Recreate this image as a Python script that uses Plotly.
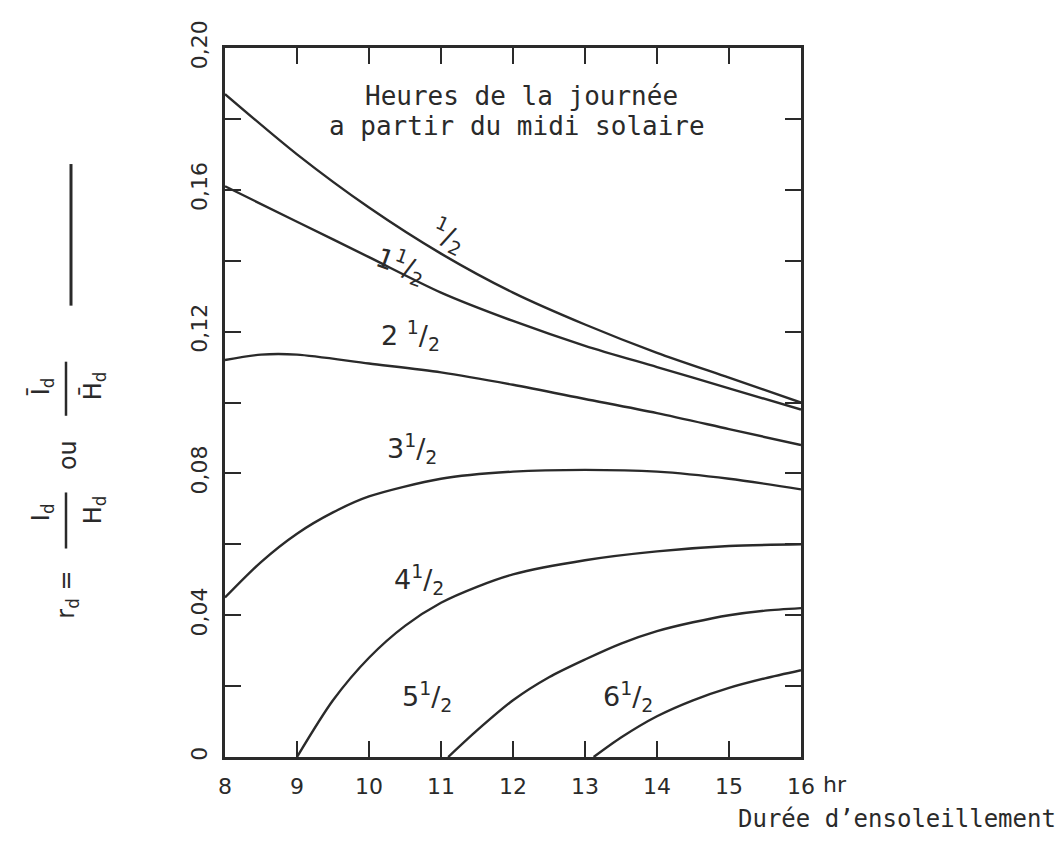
import plotly.graph_objects as go

# ---- data ----
x_half = [8, 9, 10, 11, 12, 13, 14, 15, 16]
y_half = [0.187, 0.170, 0.155, 0.142, 0.131, 0.122, 0.114, 0.107, 0.100]

x_1half = [8, 9, 10, 11, 12, 13, 14, 15, 16]
y_1half = [0.161, 0.151, 0.141, 0.131, 0.123, 0.116, 0.110, 0.104, 0.098]

x_2half = [8, 8.5, 9, 10, 11, 12, 13, 14, 15, 16]
y_2half = [0.112, 0.1135, 0.1135, 0.111, 0.1085, 0.105, 0.101, 0.097, 0.0925, 0.088]

x_3half = [8, 8.5, 9, 9.5, 10, 11, 12, 13, 14, 15, 16]
y_3half = [0.045, 0.055, 0.063, 0.069, 0.0735, 0.0785, 0.0805, 0.081, 0.0805, 0.0785, 0.0755]

x_4half = [9, 9.5, 10, 10.5, 11, 11.5, 12, 13, 14, 15, 16]
y_4half = [0.0, 0.016, 0.028, 0.037, 0.0435, 0.048, 0.0515, 0.0555, 0.058, 0.0595, 0.060]

x_5half = [11.1, 11.5, 12, 12.5, 13, 13.5, 14, 14.5, 15, 15.5, 16]
y_5half = [0.0, 0.0075, 0.016, 0.0225, 0.0275, 0.032, 0.0355, 0.038, 0.0400, 0.0413, 0.042]

x_6half = [13.12, 13.5, 14, 14.5, 15, 15.5, 16]
y_6half = [0.0, 0.0055, 0.0115, 0.016, 0.0195, 0.0222, 0.0245]

curve_labels = ["<sup>1</sup>/<sub>2</sub>", "1<sup>1</sup>/<sub>2</sub>", "2 <sup>1</sup>/<sub>2</sub>",
                "3<sup>1</sup>/<sub>2</sub>", "4<sup>1</sup>/<sub>2</sub>", "5<sup>1</sup>/<sub>2</sub>",
                "6<sup>1</sup>/<sub>2</sub>"]
label_x = [11.1, 10.45, 10.58, 10.6, 10.7, 10.8, 13.6]
label_y = [0.147, 0.139, 0.119, 0.087, 0.050, 0.017, 0.017]
label_angle = [25, 20, 0, 0, 0, 0, 0]

x_ticks = [8, 9, 10, 11, 12, 13, 14, 15, 16]
x_ticktext = ["8", "9", "10", "11", "12", "13", "14", "15", "16"]
y_ticks = [0, 0.02, 0.04, 0.06, 0.08, 0.10, 0.12, 0.14, 0.16, 0.18, 0.20]
y_ticktext = ["0", "", "0,04", "", "0,08", "", "0,12", "", "0,16", "", "0,20"]

INK = "#2a2a2a"
FONT = "DejaVu Sans"
MONO = "DejaVu Sans Mono"

fig = go.Figure()
series = [(x_half, y_half), (x_1half, y_1half), (x_2half, y_2half), (x_3half, y_3half),
          (x_4half, y_4half), (x_5half, y_5half), (x_6half, y_6half)]
for xs, ys in series:
    fig.add_trace(go.Scatter(x=xs, y=ys, mode="lines",
                             line=dict(color=INK, width=2.4, shape="spline", smoothing=0.8),
                             showlegend=False, hoverinfo="skip"))

for t, lx, ly, ang in zip(curve_labels, label_x, label_y, label_angle):
    fig.add_annotation(x=lx, y=ly, text=t, showarrow=False, textangle=ang,
                       font=dict(family=FONT, size=27, color=INK))

# plot area in screen pixels: x 225..801, y 36..757 (page body adds an 8 px offset)
OFF = 8
L, R, T, B = 225, 801, 36, 757
W, H = 1063, 841
def px(xp):
    return (xp - L) / (R - L)
def py(yp):
    return (B - yp) / (B - T)

def note(x, y, text, font, angle=0, xanchor="center"):
    fig.add_annotation(xref="paper", yref="paper", x=px(x), y=py(y), text=text, showarrow=False,
                       textangle=angle, xanchor=xanchor, yanchor="middle", font=font)

# header text
head_font = dict(family=MONO, size=26, color=INK)
note(521, 85, "Heures de la journée", head_font)
note(517, 115, "a partir du midi solaire", head_font)

# x axis unit and title
note(821, 785, "hr", dict(family=FONT, size=22, color=INK), xanchor="left")
note(1058, 820, "Durée d’ensoleillement", dict(family=MONO, size=24, color=INK), xanchor="right")

# y axis title (rotated pieces)
yt_font = dict(family=FONT, size=24, color=INK)
note(68, 592, "r<sub>d</sub> =", yt_font, angle=-90)
note(42, 508, "I<sub>d</sub>", yt_font, angle=-90)
note(94, 506, "H<sub>d</sub>", yt_font, angle=-90)
note(68, 450, "ou", yt_font, angle=-90)
note(42, 380, "Ī<sub>d</sub>", yt_font, angle=-90)
note(94, 380, "H\u0304<sub>d</sub>", yt_font, angle=-90)
fig.add_shape(type="line", xref="paper", yref="paper", x0=px(66), x1=px(66), y0=py(488), y1=py(545),
              line=dict(color=INK, width=2.5))
fig.add_shape(type="line", xref="paper", yref="paper", x0=px(66), x1=px(66), y0=py(355), y1=py(410),
              line=dict(color=INK, width=2.5))
fig.add_shape(type="line", xref="paper", yref="paper", x0=px(71), x1=px(71), y0=py(154), y1=py(298),
              line=dict(color=INK, width=3))

fig.update_xaxes(range=[8, 16], tickvals=x_ticks, ticktext=x_ticktext, ticks="inside", ticklen=16,
                 tickwidth=2.2, tickcolor=INK, showline=True, linewidth=3, linecolor=INK, mirror="ticks",
                 showgrid=False, zeroline=False, ticklabelstandoff=8,
                 tickfont=dict(family=FONT, size=22, color=INK))
fig.update_yaxes(range=[0, 0.20], tickvals=y_ticks, ticktext=y_ticktext, ticks="inside", ticklen=16,
                 tickwidth=2.2, tickcolor=INK, showline=True, linewidth=3, linecolor=INK, mirror="ticks",
                 showgrid=False, zeroline=False, tickangle=-90, ticklabelstandoff=6,
                 tickfont=dict(family=FONT, size=22, color=INK))

fig.update_layout(width=W, height=H,
                  margin=dict(l=L - OFF, r=W - (R - OFF), t=T - OFF, b=H - (B - OFF)),
                  paper_bgcolor="white", plot_bgcolor="white")

fig.write_html("out.html")
